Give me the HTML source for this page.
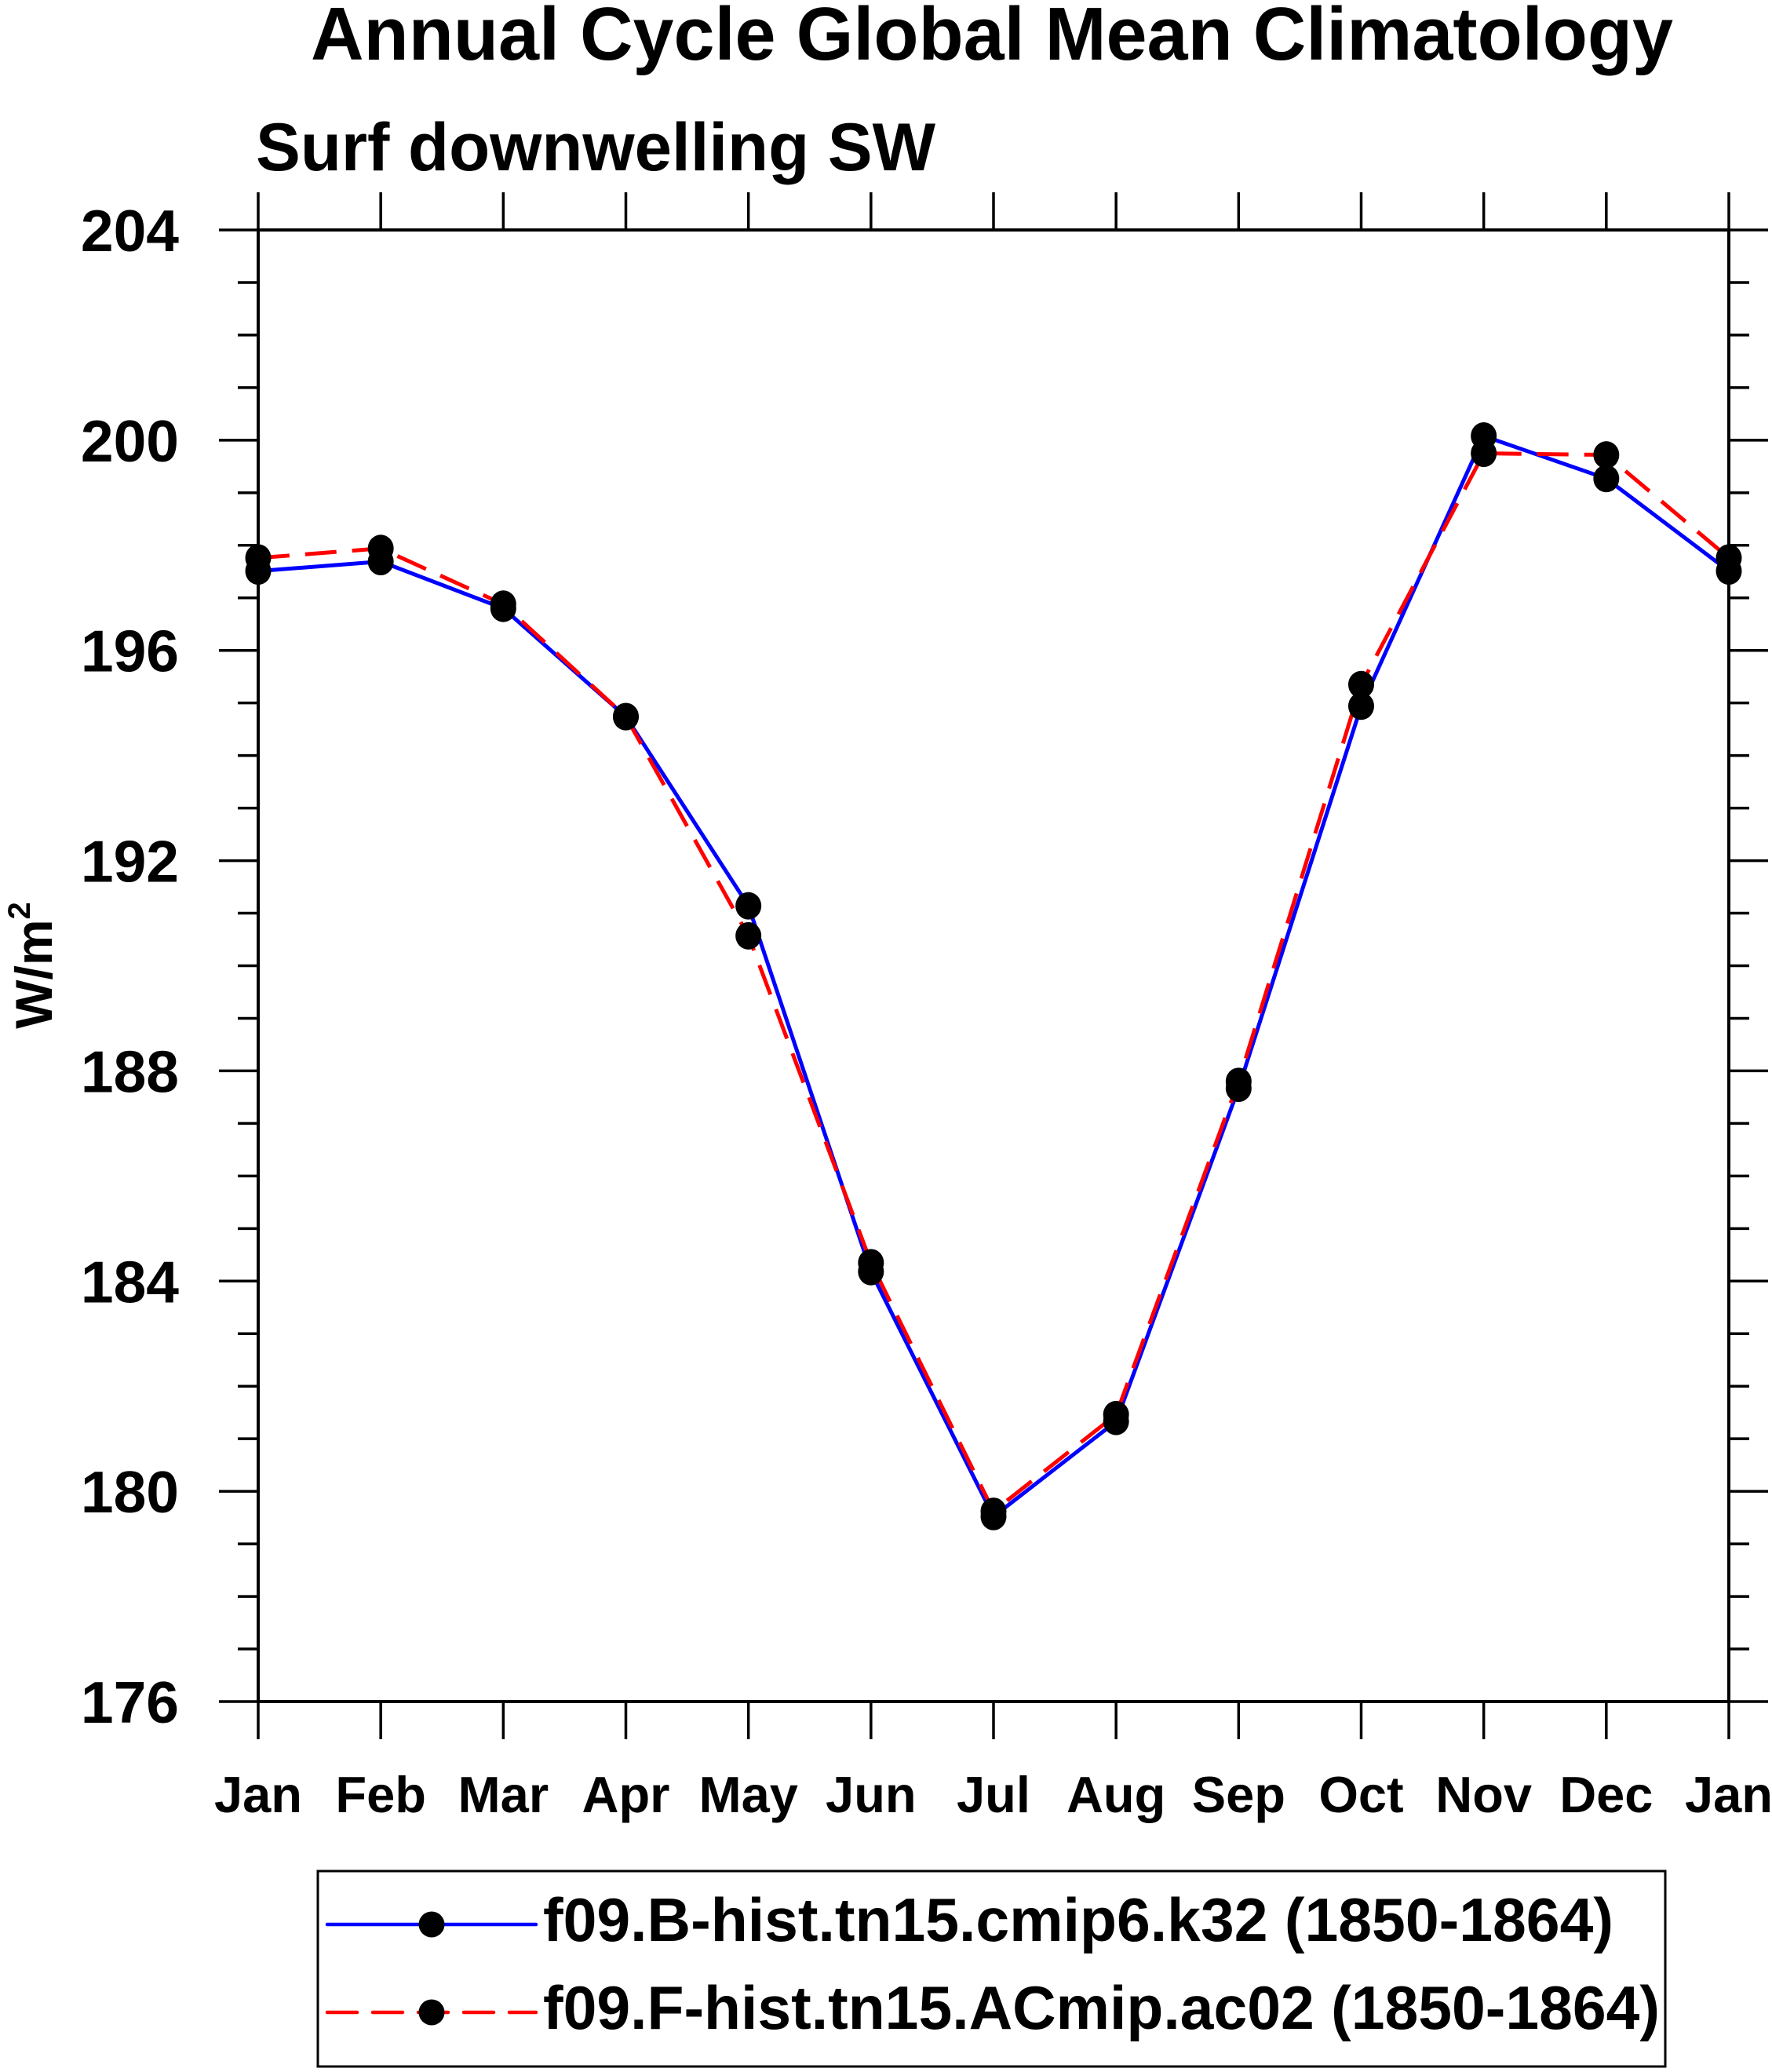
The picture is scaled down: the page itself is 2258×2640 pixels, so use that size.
<!DOCTYPE html>
<html><head><meta charset="utf-8"><style>
html,body{margin:0;padding:0;background:#fff;}
svg{display:block;font-family:"Liberation Sans",sans-serif;font-weight:bold;}
</style></head><body>
<svg id="chart" width="2258" height="2640" viewBox="0 0 2258 2640" xmlns="http://www.w3.org/2000/svg">
<text x="1264" y="76" font-size="96" text-anchor="middle" textLength="1736" lengthAdjust="spacingAndGlyphs">Annual Cycle Global Mean Climatology</text>
<text x="326" y="217" font-size="86" textLength="866" lengthAdjust="spacingAndGlyphs">Surf downwelling SW</text>
<text transform="translate(66,1230) rotate(-90)" font-size="66" text-anchor="middle">W/m<tspan font-size="40" dy="-28">2</tspan></text>
<g id="axes"></g>
<g id="series"></g>
<g>
<rect x="405" y="2384" width="1717" height="249" fill="none" stroke="#000" stroke-width="3"/>
<line x1="417" y1="2452" x2="683" y2="2452" stroke="#0000ff" stroke-width="4.5" stroke-linecap="round"/>
<circle cx="550" cy="2452" r="16.5"/>
<text x="692" y="2473" font-size="78" textLength="1364" lengthAdjust="spacingAndGlyphs">f09.B-hist.tn15.cmip6.k32 (1850-1864)</text>
<line x1="417" y1="2564" x2="683" y2="2564" stroke="#ff0000" stroke-width="4.5" stroke-linecap="round" stroke-dasharray="38,20"/>
<circle cx="550" cy="2564" r="16.5"/>
<text x="692" y="2585" font-size="78" textLength="1423" lengthAdjust="spacingAndGlyphs">f09.F-hist.tn15.ACmip.ac02 (1850-1864)</text>
</g>
</svg>
<script>
const months = ["Jan","Feb","Mar","Apr","May","Jun","Jul","Aug","Sep","Oct","Nov","Dec","Jan"];
const blueValues = [197.51,197.69,196.8,194.74,191.14,184.18,179.52,181.33,187.67,194.94,200.08,199.27,197.51];
const redValues = [197.76,197.94,196.88,194.74,190.57,184.35,179.62,181.46,187.8,195.35,199.75,199.72,197.76];
const yTicks = [176,180,184,188,192,196,200,204];

const NS = "http://www.w3.org/2000/svg";
const X0 = 329, X1 = 2203, Y0 = 2168, Y1 = 293, YMIN = 176, YMAX = 204;
function xs(i){ return X0 + (X1 - X0) * i / (months.length - 1); }
function ys(v){ return Y0 - (Y0 - Y1) * (v - YMIN) / (YMAX - YMIN); }
function mk(tag, attrs, parent){
  const el = document.createElementNS(NS, tag);
  for (const k in attrs) el.setAttribute(k, attrs[k]);
  parent.appendChild(el);
  return el;
}
const axes = document.getElementById('axes');
const frame = mk('rect', {x:X0, y:Y1, width:X1-X0, height:Y0-Y1, fill:'none', stroke:'#000', 'stroke-width':4}, axes);


for (let v = YMIN; v <= YMAX; v++) {
  const major = (v - YMIN) % 4 === 0;
  const len = major ? 50 : 26;
  const y = ys(v);
  const tl = mk('line', {x1:X0-len, y1:y, x2:X0, y2:y, stroke:'#000', 'stroke-width':3.5}, axes);
  
  
  const tr = mk('line', {x1:X1, y1:y, x2:X1+len, y2:y, stroke:'#000', 'stroke-width':3.5}, axes);
  
  
}
yTicks.forEach(v => {
  const t = mk('text', {x:228, y:ys(v)+27, 'font-size':75, 'text-anchor':'end'}, axes);
  t.textContent = String(v);
  
  
});
months.forEach((m, i) => {
  const x = xs(i);
  const tb = mk('line', {x1:x, y1:Y0, x2:x, y2:Y0+48, stroke:'#000', 'stroke-width':3.5}, axes);
  
  
  const tt = mk('line', {x1:x, y1:Y1-48, x2:x, y2:Y1, stroke:'#000', 'stroke-width':3.5}, axes);
  
  
  const t = mk('text', {x:x, y:2309, 'font-size':65, 'text-anchor':'middle'}, axes);
  t.textContent = m;
  
  
});
const series = document.getElementById('series');
function drawSeries(vals, color, dash, name){
  const pts = vals.map((v,i) => xs(i).toFixed(1) + ',' + ys(v).toFixed(1)).join(' ');
  const attrs = {points:pts, fill:'none', stroke:color, 'stroke-width':5, 'stroke-linejoin':'round'};
  if (dash) attrs['stroke-dasharray'] = dash;
  const pl = mk('polyline', attrs, series);
  
  
}
function drawMarkers(vals, name){
  vals.forEach((v,i) => {
    const c = mk('ellipse', {cx:xs(i), cy:ys(v), rx:16.5, ry:17.5, fill:'#000'}, series);
    
    
  });
}
drawSeries(blueValues, '#0000ff', null, 'blue-series');
drawSeries(redValues, '#ff0000', '40,20', 'red-series');
drawMarkers(blueValues, 'blue-series');
drawMarkers(redValues, 'red-series');
</script>
</body></html>
